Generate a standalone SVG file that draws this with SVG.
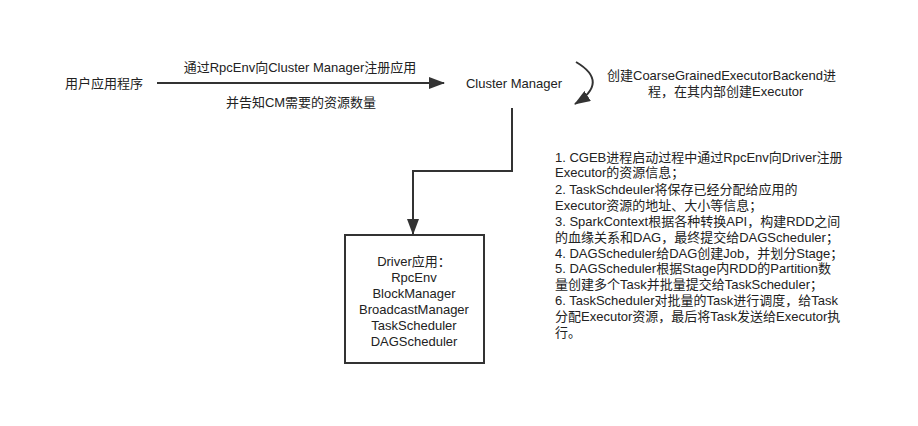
<svg xmlns="http://www.w3.org/2000/svg" width="918" height="426" viewBox="0 0 918 426">
<style>
text{font-family:"Liberation Sans","Noto Sans CJK SC",sans-serif;font-size:13px;fill:#222;}
.c{text-anchor:middle;}
.ln{fill:none;stroke:#333;stroke-width:2;}
</style>
<defs>
<marker id="ah" viewBox="0 0 16 12" refX="15" refY="6" markerWidth="16" markerHeight="12" markerUnits="userSpaceOnUse" orient="auto">
<path d="M0,0 L16,6 L0,12 Z" fill="#333"/>
</marker>
</defs>
<rect width="918" height="426" fill="#fff"/>
<g id="connectors">
<path class="ln" d="M157,83 H444" marker-end="url(#ah)"/>
<path class="ln" d="M512,108 V171 H413 V234" marker-end="url(#ah)"/>
<path class="ln" d="M576,62 Q610,82 575,104" marker-end="url(#ah)"/>
</g>
<g id="user"><text x="104" y="88" class="c">用户应用程序</text></g>
<g id="label-register">
<text x="300" y="72" class="c">通过RpcEnv向Cluster Manager注册应用</text>
<text x="301" y="107" class="c">并告知CM需要的资源数量</text>
</g>
<g id="cluster-manager"><text x="514" y="88" class="c">Cluster Manager</text></g>
<g id="label-cgeb">
<text x="607" y="80">创建CoarseGrainedExecutorBackend进</text>
<text x="648" y="96">程，在其内部创建Executor</text>
</g>
<g id="driver">
<rect x="345" y="235" width="139" height="128" fill="#fff" stroke="#333" stroke-width="2"/>
<text x="414" y="266" class="c">Driver应用：</text>
<text x="414" y="282" class="c">RpcEnv</text>
<text x="414" y="298" class="c">BlockManager</text>
<text x="414" y="314" class="c">BroadcastManager</text>
<text x="414" y="330" class="c">TaskScheduler</text>
<text x="414" y="346" class="c">DAGScheduler</text>
</g>
<g id="notes">
<text x="555" y="162">1. CGEB进程启动过程中通过RpcEnv向Driver注册</text>
<text x="555" y="177">Executor的资源信息；</text>
<text x="555" y="194">2. TaskSchdeuler将保存已经分配给应用的</text>
<text x="555" y="210">Executor资源的地址、大小等信息；</text>
<text x="555" y="226">3. SparkContext根据各种转换API，构建RDD之间</text>
<text x="555" y="242">的血缘关系和DAG，最终提交给DAGScheduler；</text>
<text x="555" y="258">4. DAGScheduler给DAG创建Job，并划分Stage；</text>
<text x="555" y="273">5. DAGScheduler根据Stage内RDD的Partition数</text>
<text x="555" y="289">量创建多个Task并批量提交给TaskScheduler；</text>
<text x="555" y="305">6. TaskScheduler对批量的Task进行调度，给Task</text>
<text x="555" y="321">分配Executor资源，最后将Task发送给Executor执</text>
<text x="555" y="337">行。</text>
</g>
</svg>
